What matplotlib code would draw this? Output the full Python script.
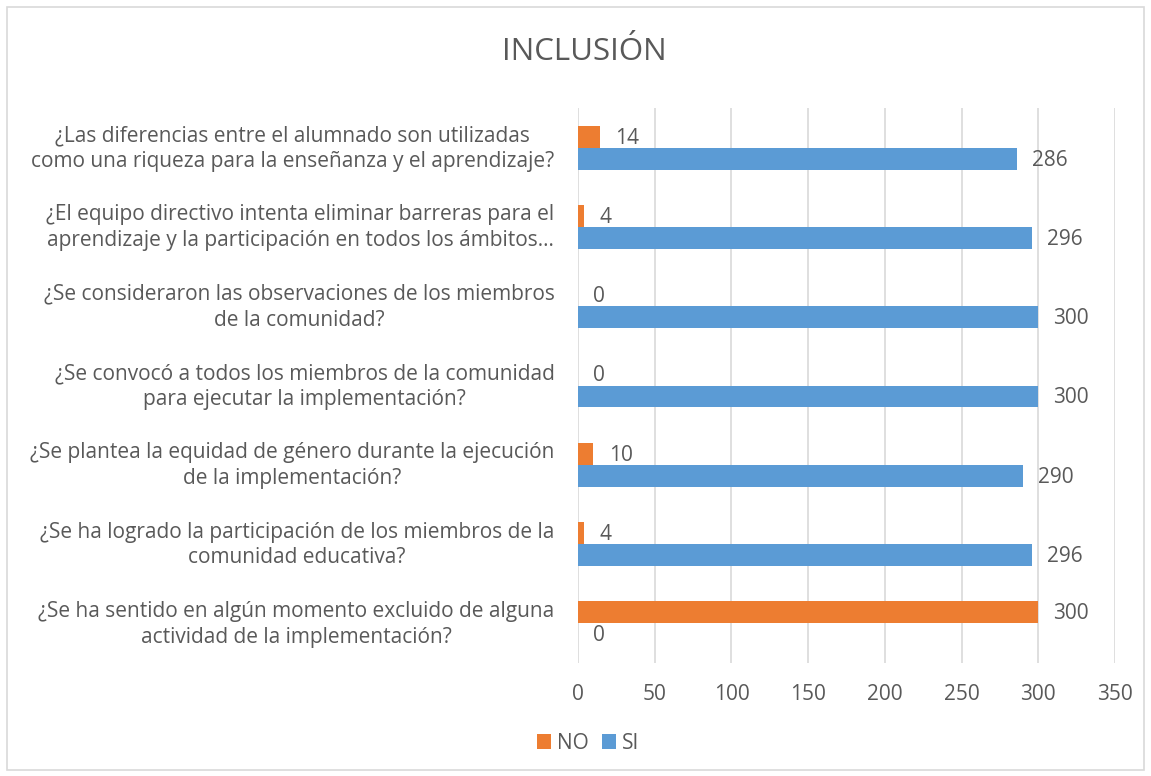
import matplotlib
matplotlib.use("Agg")
import matplotlib.pyplot as plt
from matplotlib.patches import Rectangle
from matplotlib.transforms import ScaledTranslation
import numpy as np

# Chart data, listed top to bottom as it appears
preguntas = [
    "¿Las diferencias entre el alumnado son utilizadas\ncomo una riqueza para la enseñanza y el aprendizaje?",
    "¿El equipo directivo intenta eliminar barreras para el\naprendizaje y la participación en todos los ámbitos…",
    "¿Se consideraron las observaciones de los miembros\nde la comunidad?",
    "¿Se convocó a todos los miembros de la comunidad\npara ejecutar la implementación?",
    "¿Se plantea la equidad de género durante la ejecución\nde la implementación?",
    "¿Se ha logrado la participación de los miembros de la\ncomunidad educativa?",
    "¿Se ha sentido en algún momento excluido de alguna\nactividad de la implementación?",
]
no_vals = [14, 4, 0, 0, 10, 4, 300]
si_vals = [286, 296, 300, 300, 290, 296, 0]
x_ticks = [0, 50, 100, 150, 200, 250, 300, 350]

text_color = "#595959"
orange = "#ED7D31"
blue = "#5B9BD5"
plt.rcParams['font.family'] = ['Open Sans', 'DejaVu Sans']

fig = plt.figure(figsize=(11.51, 7.76), dpi=100)
ax = fig.add_axes([0.5022, 0.1456, 0.4665, 0.7152])

y = np.arange(len(preguntas))
h = 0.277
bars_no = ax.barh(y - h / 2, no_vals, height=h, color=orange, label="NO", zorder=3)
bars_si = ax.barh(y + h / 2, si_vals, height=h, color=blue, label="SI", zorder=3)

for bars in (bars_no, bars_si):
    for b in bars:
        ax.annotate(f"{int(b.get_width())}",
                    xy=(b.get_width(), b.get_y() + b.get_height() / 2),
                    xytext=(11, -1), textcoords="offset points",
                    ha="left", va="center", fontsize=15, color=text_color)

ax.set_xlim(0, 350)
ax.set_ylim(len(preguntas) - 0.5, -0.5)
ax.set_xticks(x_ticks)
ax.set_yticks(y)
ax.set_yticklabels(preguntas, multialignment="center", linespacing=1.3)
ax.tick_params(axis="x", length=0, pad=15, labelsize=15, labelcolor=text_color)
ax.tick_params(axis="y", length=0, pad=17, labelsize=15, labelcolor=text_color)
# labels sit a little above the bar pairs in the original
shift = ScaledTranslation(0, 4 / 100, fig.dpi_scale_trans)
for lbl in ax.get_yticklabels():
    lbl.set_transform(lbl.get_transform() + shift)
ax.grid(axis="x", color="#D9D9D9", linewidth=1.2, zorder=0)
for s in ax.spines.values():
    s.set_visible(False)

fig.text(0.508, 0.933, "INCLUSIÓN", ha="center", va="center",
         fontsize=22.5, color=text_color)

handles = [bars_no, bars_si]
fig.legend(handles, ["NO", "SI"], loc="center", bbox_to_anchor=(0.511, 0.0425),
           ncol=2, frameon=False, fontsize=15, handlelength=0.7,
           handleheight=0.7, handletextpad=0.3, columnspacing=0.6,
           labelcolor=text_color)

fig.patches.append(Rectangle((7 / 1151, 6 / 776), 1137 / 1151, 763 / 776,
                             transform=fig.transFigure, fill=False,
                             edgecolor="#D9D9D9", linewidth=1.2))

fig.savefig("out.png", dpi=100)
